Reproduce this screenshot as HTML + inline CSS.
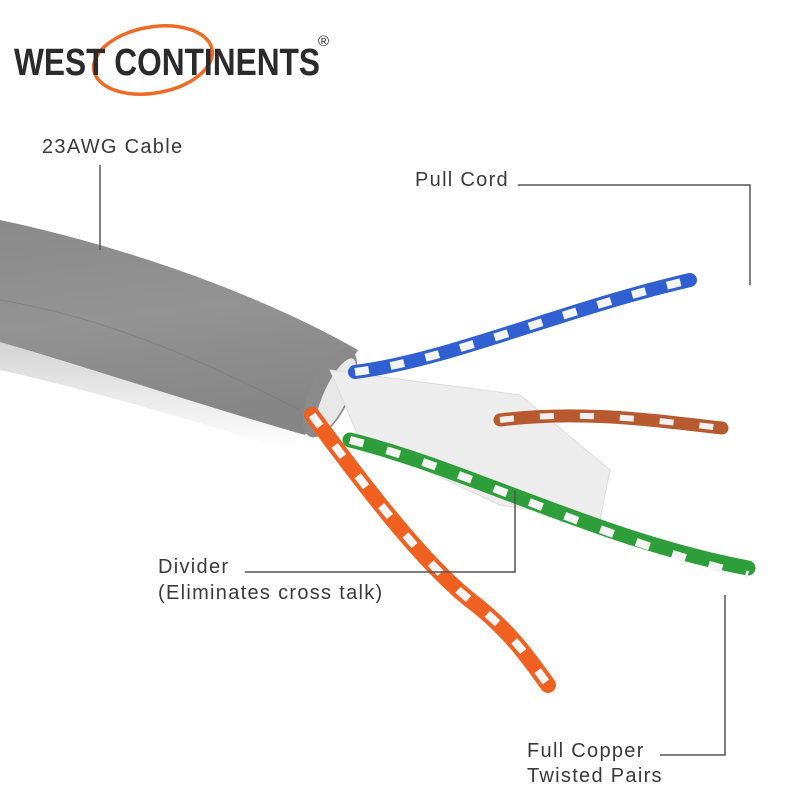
<!DOCTYPE html>
<html><head><meta charset="utf-8"><style>
html,body{margin:0;padding:0;background:#fff;}
svg{display:block}
</style></head><body>
<svg width="800" height="800" viewBox="0 0 800 800" xmlns="http://www.w3.org/2000/svg">
<defs>
<linearGradient id="g" x1="0" y1="0" x2="0.2" y2="1">
<stop offset="0" stop-color="#8a8a8a"/><stop offset="0.5" stop-color="#939393"/><stop offset="1" stop-color="#858585"/>
</linearGradient>
<linearGradient id="r" x1="0" y1="0" x2="0" y2="1">
<stop offset="0" stop-color="#b5b5b5"/><stop offset="1" stop-color="#ffffff"/>
</linearGradient>
</defs>
<rect width="800" height="800" fill="#fff"/>
<ellipse cx="153" cy="60" rx="60" ry="33" fill="none" stroke="#f06a24" stroke-width="3.5" transform="rotate(-10 153 60)"/>
<text x="14" y="75" font-family="Liberation Sans Narrow, Liberation Sans, sans-serif" font-size="38" font-weight="bold" fill="#2b2b2b" textLength="306" lengthAdjust="spacingAndGlyphs">WEST CONTINENTS</text>
<text x="318" y="46" font-family="Liberation Sans, sans-serif" font-size="15" fill="#2b2b2b">®</text>
<path d="M0,340 C100,365 200,400 300,432 L290,450 C190,420 90,390 0,370 Z" fill="url(#r)" opacity="0.6"/>
<path d="M0,220 C150,252 280,305 358,350 L305,435 C200,405 90,368 0,342 Z" fill="url(#g)"/>
<path d="M0,300 C120,320 220,370 300,410" stroke="#7a7a7a" stroke-width="1" fill="none" opacity="0.6"/>
<ellipse cx="330" cy="393" rx="20" ry="48" fill="#8a8a8a" transform="rotate(25 330 393)"/>
<ellipse cx="336" cy="395" rx="12" ry="40" fill="#e8e8e8" transform="rotate(25 336 395)"/>
<path d="M330,370 L520,395 L610,470 L600,520 L500,505 L360,440 Z" fill="#ededed" stroke="#dcdcdc"/>
<path d="M355,372 C450,360 560,310 690,280" stroke="#2f5fd0" stroke-width="14" fill="none" stroke-linecap="round"/>
<path d="M355,372 C450,360 560,310 690,280" stroke="#f4f4f4" stroke-width="8" fill="none" stroke-dasharray="14 22"/>
<path d="M500,420 C580,410 650,420 722,428" stroke="#b85a30" stroke-width="13" fill="none" stroke-linecap="round"/>
<path d="M500,420 C580,410 650,420 722,428" stroke="#f0f0f0" stroke-width="6" fill="none" stroke-dasharray="14 26"/>
<path d="M350,440 C470,470 600,540 748,568" stroke="#2e9e3a" stroke-width="15" fill="none" stroke-linecap="round"/>
<path d="M350,440 C470,470 600,540 748,575" stroke="#f4f4f4" stroke-width="8" fill="none" stroke-dasharray="14 24"/>
<path d="M312,415 C360,480 420,560 470,600 C510,630 530,660 548,685" stroke="#f06020" stroke-width="16" fill="none" stroke-linecap="round"/>
<path d="M312,415 C360,480 420,560 470,600 C510,630 530,660 548,685" stroke="#f5f5f5" stroke-width="8" fill="none" stroke-dasharray="14 24"/>
<g font-family="Liberation Sans, sans-serif" font-size="20" letter-spacing="1.3" fill="#3a3a3a">
<text x="42" y="153">23AWG Cable</text>
<text x="415" y="186">Pull Cord</text>
<text x="158" y="573">Divider</text>
<text x="158" y="599">(Eliminates cross talk)</text>
<text x="527" y="757">Full Copper</text>
<text x="527" y="782">Twisted Pairs</text>
</g>
<g stroke="#555" stroke-width="1.5" fill="none">
<path d="M100,165 V250"/>
<path d="M518,185 H750 V285"/>
<path d="M245,572 H515 V490"/>
<path d="M660,755 H725 V595"/>
</g>
</svg>
</body></html>
